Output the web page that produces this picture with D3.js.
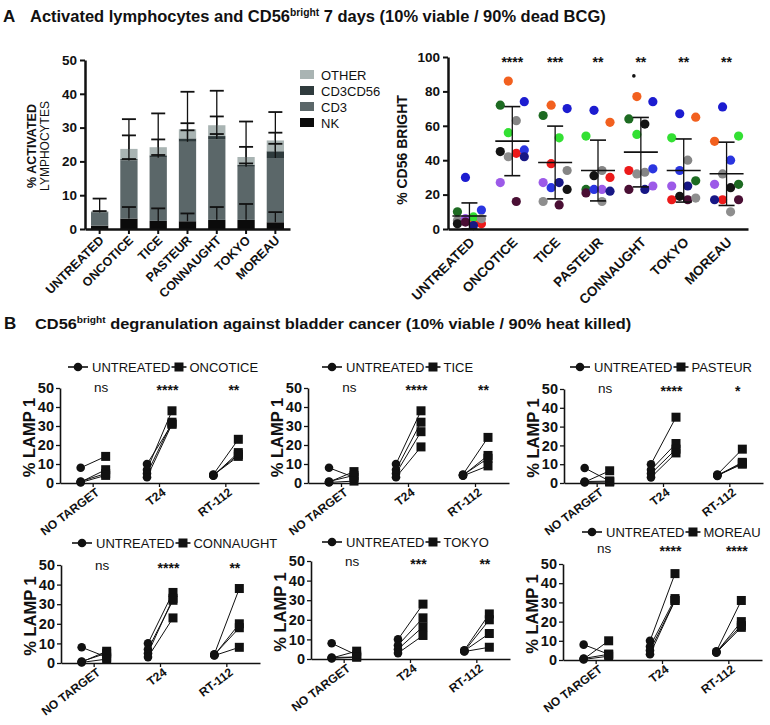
<!DOCTYPE html>
<html><head><meta charset="utf-8">
<script src="https://cdn.jsdelivr.net/npm/d3@7"></script>
<style>
body{margin:0;background:#fff}
svg{display:block}
text{font-family:"Liberation Sans",Arial,sans-serif;fill:#111}
</style>
</head><body>
<svg id="c" width="770" height="725"></svg>
<script>
// ================= DATA =================
const barCategories = ["UNTREATED","ONCOTICE","TICE","PASTEUR","CONNAUGHT","TOKYO","MOREAU"];
const stackKeys = ["NK","CD3","CD3CD56","OTHER"];
const legendKeys = ["OTHER","CD3CD56","CD3","NK"];
const nkValues      = [1.0, 3.1, 2.4, 2.3, 2.7, 2.7, 2.0];
const nkErrors      = [0.0, 3.4, 3.7, 2.3, 3.8, 4.7, 3.0];
const cd3Values     = [3.9, 17.2, 18.7, 23.5, 23.9, 15.7, 19.0];
const cd3Errors     = [0.4, 0.4, 0.8, 3.4, 1.5, 1.0, 4.2];
const cd3cd56Values = [0.2, 0.4, 0.7, 1.0, 0.9, 0.6, 2.0];
const cd3cd56Errors = [0.0, 7.0, 4.7, 4.5, 5.8, 5.3, 5.5];
const otherValues   = [0.1, 3.0, 2.4, 2.7, 3.2, 2.3, 3.2];
const otherErrors   = [3.8, 8.8, 10.0, 11.1, 10.2, 10.5, 8.4];
const barTicks = [0,10,20,30,40,50];

// CD56 bright per donor (12 donors, same order in every group)
const donorColors = ["#f2601f","#1c1cd0","#1d6b22","#33e033","#858585","#ec1a1a","#141414","#9c5ae8","#4a0f34","#2a35e0","#8e8e8e","#171785"];
const cd56Untreated = [4, 30, 10, 7, 5, 3, 3, 6, 4, 11, 6, 2];
const cd56Oncotice  = [86, 74, 72, 56, 63, 44, 45, 27, 16, 46, 42, 42];
const cd56Tice      = [72, 70, 66, 53, 34, 38, 23, 27, 14, 24, 16, 27];
const cd56Pasteur   = [62, 69, 23, 54, 34, 30, 31, 23, 21, 23, 16, 22];
const cd56Connaught = [77, 74, 64, 55, 33, 34, 61, 25, 23, 35, 32, 23];
const cd56Tokyo     = [65, 67, 28, 53, 40, 17, 19, 25, 17, 34, 18, 25];
const cd56Moreau    = [51, 71, 26, 54, 32, 17, 24, 26, 17, 40, 10, 17];
const cd56Outliers  = [null, null, null, null, 89, null, null];
const cd56Stars = ["", "****", "***", "**", "**", "**", "**"];
const cd56Ticks = [0,20,40,60,80,100];

// LAMP1 degranulation: [target][donor]
const targets = ["NO TARGET","T24","RT-112"];
const bcgStrains = ["ONCOTICE","TICE","PASTEUR","CONNAUGHT","TOKYO","MOREAU"];
const untreatedLamp = [[8,0.5,0.8,0.3],[10,7,5,3],[4.5,4,4.2,3.8]];
const oncoticeLamp  = [[14,7,5,4],[31,38,32,31],[23,15,14,16]];
const ticeLamp      = [[3,6,4,1],[38,32,27,19],[24,14.5,13,9]];
const pasteurLamp   = [[1,6.5,1,0.5],[35,21,18,16],[18,11,10,10.5]];
const connaughtLamp = [[3,6,5,2],[36,32,33,23],[38,20,18,8]];
const tokyoLamp     = [[2,4,1,1],[28,21,16.5,12],[23,20,13,6]];
const moreauLamp    = [[3,10,3,2],[45,32,31,31],[31,20,18,17]];
const oncoticeStars  = ["ns","****","**"];
const ticeStars      = ["ns","****","**"];
const pasteurStars   = ["ns","****","*"];
const connaughtStars = ["ns","****","**"];
const tokyoStars     = ["ns","***","**"];
const moreauStars    = ["ns","****","****"];
const lampTicks = [0,10,20,30,40,50];

// ================= DRAW =================
const svg = d3.select("#c");
const fitText = (sel, x, y, w) => {
  const bb = sel.node().getBBox();
  sel.attr("transform", `translate(${x},${y}) scale(${w/bb.width},1)`);
};

// Titles
svg.append("text").attr("x",3).attr("y",22).attr("font-size",17).attr("font-weight","bold").text("A");
const tA = svg.append("text").attr("font-family",'"Liberation Sans Narrow","Liberation Sans",Arial')
  .attr("font-weight","bold").attr("font-size",16);
tA.append("tspan").text("Activated lymphocytes and CD56");
tA.append("tspan").attr("font-size",10).attr("dy",-6).text("bright");
tA.append("tspan").attr("dy",6).text(" 7 days (10% viable / 90% dead BCG)");
fitText(tA, 30, 22, 576);

svg.append("text").attr("x",4).attr("y",329).attr("font-size",17).attr("font-weight","bold").text("B");
const tB = svg.append("text").attr("font-weight","bold").attr("font-size",14.5);
tB.append("tspan").text("CD56");
tB.append("tspan").attr("font-size",9).attr("dy",-6).text("bright");
tB.append("tspan").attr("dy",6).text(" degranulation against bladder cancer (10% viable / 90% heat killed)");
fitText(tB, 35, 329, 597);

function styleAxis(g, w, fs){
  g.select(".domain").attr("stroke","#111").attr("stroke-width",w);
  g.selectAll(".tick line").attr("stroke","#111").attr("stroke-width",w*0.8);
  g.selectAll(".tick text").attr("font-size",fs).attr("font-weight","bold").attr("fill","#111")
    .attr("font-family",'"Liberation Sans",Arial,sans-serif');
}
function rotLabels(sel, fs){
  sel.attr("text-anchor","end").attr("font-size",fs).attr("font-weight","bold")
    .attr("font-family",'"Liberation Sans",Arial,sans-serif');
}

// ---------- Panel A left: stacked bars ----------
(function(){
  const x = d3.scaleBand().domain(barCategories).range([85,290]).paddingInner(0.41).paddingOuter(0.205);
  const y = d3.scaleLinear().domain([0,50]).range([229,60]);
  const table = barCategories.map((c,i)=>({cat:c, NK:nkValues[i], CD3:cd3Values[i], CD3CD56:cd3cd56Values[i], OTHER:otherValues[i]}));
  const errs = {NK:nkErrors, CD3:cd3Errors, CD3CD56:cd3cd56Errors, OTHER:otherErrors};
  const colors = {NK:"#0b0b0b", CD3:"#5b6769", CD3CD56:"#2f3b3d", OTHER:"#a9b4b3"};
  const series = d3.stack().keys(stackKeys)(table);
  const g = svg.append("g");
  g.selectAll("g.layer").data(series).join("g").attr("fill",d=>colors[d.key])
    .selectAll("rect").data(d=>d).join("rect")
    .attr("x",d=>x(d.data.cat)).attr("width",x.bandwidth())
    .attr("y",d=>y(d[1])).attr("height",d=>y(d[0])-y(d[1]));
  series.forEach(s=>{
    s.forEach((d,i)=>{
      const e = errs[s.key][i]; if(!e) return;
      const cx = x(d.data.cat)+x.bandwidth()/2;
      g.append("line").attr("x1",cx).attr("x2",cx).attr("y1",y(d[1])).attr("y2",y(d[1]+e)).attr("stroke","#111").attr("stroke-width",1.3);
      g.append("line").attr("x1",cx-7).attr("x2",cx+7).attr("y1",y(d[1]+e)).attr("y2",y(d[1]+e)).attr("stroke","#111").attr("stroke-width",1.8);
    });
  });
  const ya = svg.append("g").attr("transform","translate(85,0)")
    .call(d3.axisLeft(y).tickValues(barTicks).tickSize(5).tickSizeOuter(0).tickPadding(3));
  styleAxis(ya, 2.5, 13.5);
  const xa = svg.append("g").attr("transform","translate(0,229)")
    .call(d3.axisBottom(x).tickSize(5).tickSizeOuter(0).tickFormat(""));
  styleAxis(xa, 2.5, 12);
  svg.append("g").selectAll("text").data(barCategories).join("text")
    .attr("transform",d=>`translate(${x(d)+x.bandwidth()/2+5},${241}) rotate(-45)`)
    .text(d=>d).call(rotLabels, 12.5);
  svg.append("text").attr("transform",`translate(36,146) rotate(-90)`).attr("text-anchor","middle")
    .attr("font-size",12.5).attr("font-weight","bold").text("% ACTIVATED");
  svg.append("text").attr("transform",`translate(49,146) rotate(-90)`).attr("text-anchor","middle")
    .attr("font-size",12).text("LYMPHOCYTES");
  const lg = svg.append("g").selectAll("g").data(legendKeys).join("g")
    .attr("transform",(d,i)=>`translate(300,${70+i*16})`);
  lg.append("rect").attr("width",14).attr("height",9).attr("fill",d=>colors[d]);
  lg.append("text").attr("x",21).attr("y",9.5).attr("font-size",13).text(d=>d);
})();

// ---------- Panel A right: CD56 bright scatter ----------
(function(){
  const groups = [cd56Untreated, cd56Oncotice, cd56Tice, cd56Pasteur, cd56Connaught, cd56Tokyo, cd56Moreau];
  const x = d3.scaleBand().domain(barCategories).range([448,748]);
  const y = d3.scaleLinear().domain([0,100]).range([229,57]);
  const lane = d3.scalePoint().domain([0,1,2,3]).range([-12,12]);
  const g = svg.append("g");
  groups.forEach((vals,gi)=>{
    const cx = x(barCategories[gi]) + x.bandwidth()/2;
    const order = d3.range(vals.length).sort((a,b)=>vals[b]-vals[a]);
    const rank = []; order.forEach((d,r)=>rank[d]=r);
    const laneOf = r => [1,3,0,2][r%4];
    g.selectAll(null).data(vals).join("circle")
      .attr("cx",(v,j)=>cx+lane(laneOf(rank[j])))
      .attr("cy",v=>y(v)).attr("r",4.6)
      .attr("fill",(v,j)=>donorColors[j]);
    const m = d3.mean(vals), sd = d3.deviation(vals);
    g.append("line").attr("x1",cx-17).attr("x2",cx+17).attr("y1",y(m)).attr("y2",y(m)).attr("stroke","#111").attr("stroke-width",1.6);
    g.append("line").attr("x1",cx).attr("x2",cx).attr("y1",y(Math.max(0,m-sd))).attr("y2",y(m+sd)).attr("stroke","#111").attr("stroke-width",1.3);
    [m-sd, m+sd].forEach(v=>{ if(v<0) return;
      g.append("line").attr("x1",cx-8).attr("x2",cx+8).attr("y1",y(v)).attr("y2",y(v)).attr("stroke","#111").attr("stroke-width",1.6);});
    if(cd56Outliers[gi]!=null) g.append("circle").attr("cx",cx-7).attr("cy",y(cd56Outliers[gi])).attr("r",1.8).attr("fill","#111");
    g.append("text").attr("x",cx).attr("y",67).attr("text-anchor","middle").attr("font-size",14).attr("font-weight","bold").text(cd56Stars[gi]);
  });
  const ya = svg.append("g").attr("transform","translate(448,0)")
    .call(d3.axisLeft(y).tickValues(cd56Ticks).tickSize(5).tickSizeOuter(0).tickPadding(3));
  styleAxis(ya, 2.5, 13.5);
  const xa = svg.append("g").attr("transform","translate(0,229)")
    .call(d3.axisBottom(x).tickSize(0).tickSizeOuter(0).tickFormat(""));
  styleAxis(xa, 2.5, 12);
  svg.append("g").selectAll("text").data(barCategories).join("text")
    .attr("transform",d=>`translate(${x(d)+x.bandwidth()/2+6},${243}) rotate(-45)`)
    .text(d=>d).call(rotLabels, 13.5);
  svg.append("text").attr("transform","translate(407,150) rotate(-90)").attr("text-anchor","middle")
    .attr("font-size",14).attr("font-weight","bold").text("% CD56 BRIGHT");
})();

// ---------- Panel B: 6 before/after plots ----------
const bLayouts = [
  {x0:60,  x1:259, yZero:483, yTop:388, legX:68,  legY:367, starY:395},
  {x0:308, x1:509, yZero:483, yTop:388, legX:322, legY:367, starY:395},
  {x0:564, x1:763, yZero:483, yTop:389, legX:570, legY:367, starY:396},
  {x0:61,  x1:260, yZero:663, yTop:565, legX:72,  legY:543, starY:573},
  {x0:311, x1:510, yZero:659, yTop:561, legX:322, legY:542, starY:569},
  {x0:563, x1:762, yZero:660, yTop:564, legX:582, legY:532, starY:556}
];
const strainLamp = [oncoticeLamp, ticeLamp, pasteurLamp, connaughtLamp, tokyoLamp, moreauLamp];
const strainStars = [oncoticeStars, ticeStars, pasteurStars, connaughtStars, tokyoStars, moreauStars];

bcgStrains.forEach((strain, si)=>{
  const L = bLayouts[si];
  const x = d3.scaleBand().domain(targets).range([L.x0, L.x1]);
  const y = d3.scaleLinear().domain([0,50]).range([L.yZero, L.yTop]);
  const g = svg.append("g");
  const treated = strainLamp[si];
  targets.forEach((t,ti)=>{
    const c = x(t) + x.bandwidth()/2;
    const ux = c - 12.5, tx = c + 12.5;
    untreatedLamp[ti].forEach((u,j)=>{
      g.append("line").attr("x1",ux).attr("y1",y(u)).attr("x2",tx).attr("y2",y(treated[ti][j]))
        .attr("stroke","#111").attr("stroke-width",1);
    });
    untreatedLamp[ti].forEach(u=>{
      g.append("circle").attr("cx",ux).attr("cy",y(u)).attr("r",4.3).attr("fill","#111");
    });
    treated[ti].forEach(v=>{
      g.append("rect").attr("x",tx-4.5).attr("y",y(v)-4.5).attr("width",9).attr("height",9).attr("fill","#111");
    });
    const st = strainStars[si][ti];
    g.append("text").attr("x",c+8).attr("y",st==="ns"?L.starY-3:L.starY).attr("text-anchor","middle")
      .attr("font-size",st==="ns"?13.5:14).attr("font-weight",st==="ns"?"normal":"bold").text(st);
  });
  const ya = svg.append("g").attr("transform",`translate(${L.x0},0)`)
    .call(d3.axisLeft(y).tickValues(lampTicks).tickSize(4).tickSizeOuter(0).tickPadding(2));
  styleAxis(ya, 1.6, 14.5);
  const xa = svg.append("g").attr("transform",`translate(0,${L.yZero})`)
    .call(d3.axisBottom(x).tickSize(4).tickSizeOuter(0).tickFormat(""));
  styleAxis(xa, 1.6, 12);
  svg.append("g").selectAll("text").data(targets).join("text")
    .attr("transform",d=>`translate(${x(d)+x.bandwidth()/2+7},${L.yZero+11}) rotate(-37)`)
    .text(d=>d).call(rotLabels, 12);
  svg.append("text").attr("transform",`translate(${L.x0-25},${(L.yZero+L.yTop)/2+2}) rotate(-90)`)
    .attr("text-anchor","middle").attr("font-size",16.5).attr("font-weight","bold").text("% LAMP 1");
  // legend
  const lg = svg.append("g").attr("transform",`translate(${L.legX},${L.legY})`);
  lg.append("line").attr("x1",0).attr("x2",20).attr("stroke","#111").attr("stroke-width",1.6);
  lg.append("circle").attr("cx",10).attr("r",4.3).attr("fill","#111");
  const t1 = lg.append("text").attr("x",24).attr("y",4.5).attr("font-size",13).text("UNTREATED");
  const w1 = t1.node().getComputedTextLength();
  const sx = 24 + w1 + 1;
  lg.append("line").attr("x1",sx).attr("x2",sx+15).attr("stroke","#111").attr("stroke-width",1.6);
  lg.append("rect").attr("x",sx+7.5-4.5).attr("y",-4.5).attr("width",9).attr("height",9).attr("fill","#111");
  lg.append("text").attr("x",sx+18).attr("y",4.5).attr("font-size",13).text(strain);
});
</script>
</body></html>
